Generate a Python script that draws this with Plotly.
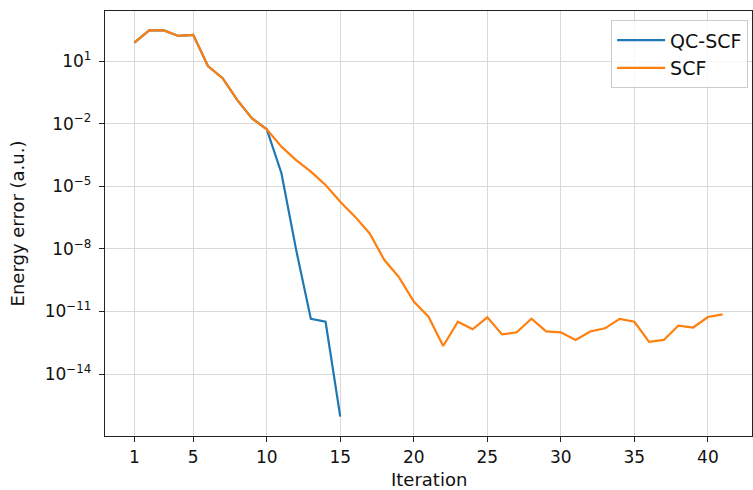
import plotly.graph_objects as go

iterations_scf = list(range(1, 42))
scf_error = [
    7.6e1, 2.95e2, 2.95e2, 1.6e2, 1.8e2, 5.8e0, 1.5e0, 1.35e-1, 1.8e-2, 5.4e-3,
    7.9e-4, 1.8e-4, 5.0e-5, 1.15e-5, 1.8e-6, 3.5e-7, 5.5e-8, 2.9e-9, 4.3e-10, 3.0e-11,
    5.6e-12, 2.2e-13, 3.2e-12, 1.4e-12, 5.2e-12, 7.9e-13, 1.0e-12, 4.5e-12, 1.1e-12, 1.0e-12,
    4.3e-13, 1.1e-12, 1.55e-12, 4.4e-12, 3.2e-12, 3.5e-13, 4.3e-13, 2.1e-12, 1.7e-12, 5.4e-12,
    7.2e-12,
]

iterations_qc = list(range(1, 16))
qc_error = [
    7.6e1, 2.95e2, 2.95e2, 1.6e2, 1.8e2, 5.8e0, 1.5e0, 1.35e-1, 1.8e-2, 5.4e-3,
    4.2e-5, 8.9e-9, 4.4e-12, 3.2e-12, 9.1e-17,
]

x_tickvals = [1, 5, 10, 15, 20, 25, 30, 35, 40]
y_tickvals = [1e1, 1e-2, 1e-5, 1e-8, 1e-11, 1e-14]
y_ticktext = ["10<sup>1</sup>", "10<sup>\u22122</sup>", "10<sup>\u22125</sup>",
              "10<sup>\u22128</sup>", "10<sup>\u221211</sup>", "10<sup>\u221214</sup>"]

fig = go.Figure()
fig.add_trace(go.Scatter(x=iterations_qc, y=qc_error, mode="lines", name="QC-SCF",
                         line=dict(color="#1f77b4", width=2.2)))
fig.add_trace(go.Scatter(x=iterations_scf, y=scf_error, mode="lines", name="SCF",
                         line=dict(color="#ff7f0e", width=2.2)))

axis_common = dict(
    showline=True, linecolor="#222222", linewidth=1.3, mirror=True,
    ticks="outside", ticklen=5, tickwidth=1.3, tickcolor="#222222",
    showgrid=True, gridcolor="#d9d9d9", gridwidth=1, zeroline=False,
    tickfont=dict(family="DejaVu Sans", size=17, color="#111111"),
)

fig.update_layout(
    width=753, height=490,
    margin=dict(l=105, r=1, t=11, b=54),
    paper_bgcolor="white", plot_bgcolor="white",
    font=dict(family="DejaVu Sans", size=17, color="#111111"),
    xaxis=dict(range=[-1, 43], tickvals=x_tickvals, **axis_common),
    yaxis=dict(type="log", range=[-16.97, 3.40], tickvals=y_tickvals, ticktext=y_ticktext,
               ticklabelstandoff=4, **axis_common),
    legend=dict(x=0.994, y=0.978, xanchor="right", yanchor="top", itemwidth=48,
                bgcolor="rgba(255,255,255,0.8)", bordercolor="#cccccc", borderwidth=1,
                font=dict(family="DejaVu Sans", size=19)),
    showlegend=True,
    annotations=[
        dict(text="Iteration", xref="paper", yref="paper", x=0.5, y=0,
             xanchor="center", yanchor="middle", yshift=-43, showarrow=False,
             font=dict(family="DejaVu Sans", size=18, color="#111111")),
        dict(text="Energy error (a.u.)", xref="paper", yref="paper", x=-0.1345, y=0.5,
             xanchor="center", yanchor="middle", textangle=-90, showarrow=False,
             font=dict(family="DejaVu Sans", size=18, color="#111111")),
    ],
)

fig.write_html(
    "out.html",
    config={"displayModeBar": False},
    post_script="document.body.style.margin='0px';document.body.style.overflow='hidden';",
)
